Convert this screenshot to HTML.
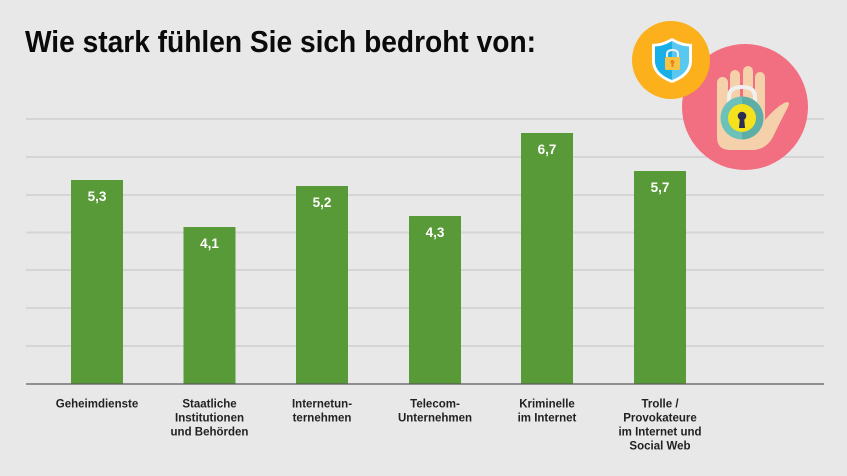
<!DOCTYPE html>
<html><head><meta charset="utf-8"><style>
html,body{margin:0;padding:0;background:#e8e8e8;}
svg{display:block;}
text{font-family:"Liberation Sans",Arial,sans-serif;}
</style></head><body>
<svg width="847" height="476" viewBox="0 0 847 476" xmlns="http://www.w3.org/2000/svg">
<rect width="847" height="476" fill="#e8e8e8"/>
<text x="25" y="52" font-size="31" font-weight="bold" fill="#0a0a0a" textLength="511" lengthAdjust="spacingAndGlyphs">Wie stark fühlen Sie sich bedroht von:</text>
<g stroke="#d5d5d5" stroke-width="2">
<line x1="26" y1="119" x2="824" y2="119"/>
<line x1="26" y1="157" x2="824" y2="157"/>
<line x1="26" y1="195" x2="824" y2="195"/>
<line x1="26" y1="232.5" x2="824" y2="232.5"/>
<line x1="26" y1="270" x2="824" y2="270"/>
<line x1="26" y1="308" x2="824" y2="308"/>
<line x1="26" y1="346" x2="824" y2="346"/>
</g>
<g fill="#589a37">
<rect x="71" y="180" width="52" height="204"/>
<rect x="183.5" y="227" width="52" height="157"/>
<rect x="296" y="186" width="52" height="198"/>
<rect x="409" y="216" width="52" height="168"/>
<rect x="521" y="133" width="52" height="251"/>
<rect x="634" y="171" width="52" height="213"/>
</g>
<line x1="26" y1="384" x2="824" y2="384" stroke="#5a5a5a" stroke-width="1.3"/>
<g fill="#fff" font-size="13.5" font-weight="bold" text-anchor="middle">
<text x="97" y="201">5,3</text>
<text x="209.5" y="248">4,1</text>
<text x="322" y="207">5,2</text>
<text x="435" y="237">4,3</text>
<text x="547" y="154">6,7</text>
<text x="660" y="192">5,7</text>
</g>
<g fill="#222" font-size="11.5" font-weight="bold" text-anchor="middle">
<text x="97" y="407.5">Geheimdienste</text>
<text x="209.5" y="407.5">Staatliche</text>
<text x="209.5" y="421.5">Institutionen</text>
<text x="209.5" y="435.5">und Behörden</text>
<text x="322" y="407.5">Internetun-</text>
<text x="322" y="421.5">ternehmen</text>
<text x="435" y="407.5">Telecom-</text>
<text x="435" y="421.5">Unternehmen</text>
<text x="547" y="407.5">Kriminelle</text>
<text x="547" y="421.5">im Internet</text>
<text x="660" y="407.5">Trolle /</text>
<text x="660" y="421.5">Provokateure</text>
<text x="660" y="435.5">im Internet und</text>
<text x="660" y="449.5">Social Web</text>
</g>
<!-- pink circle with hand -->
<circle cx="745" cy="107" r="63" fill="#f26e81"/>
<g fill="#f4d1aa">
<rect x="717" y="77" width="11" height="50" rx="5.5"/>
<rect x="730" y="70" width="10" height="50" rx="5"/>
<rect x="743" y="66" width="10" height="50" rx="5"/>
<rect x="755" y="72" width="10" height="50" rx="5"/>
<path d="M717 100 L765 100 L765 120 Q775 108 784 103 Q791 100 788 107 Q780 122 773 137 Q766 150 752 150 L730 150 Q717 150 717 137 Z"/>
</g>
<path d="M729 105 L729 97 Q729 87 742 87 Q755 87 755 97 L755 105" fill="none" stroke="#f0f0f0" stroke-width="4"/>
<circle cx="742" cy="118" r="21.5" fill="#6cc2b9"/>
<path d="M742 96.5 A21.5 21.5 0 0 1 742 139.5 Z" fill="#5caea6"/>
<circle cx="742" cy="118" r="14" fill="#f6e21c"/>
<circle cx="742" cy="116" r="4.3" fill="#2b2d55"/>
<path d="M740 117 L744 117 L745 128 L739 128 Z" fill="#2b2d55"/>
<!-- orange circle with shield -->
<circle cx="671" cy="60" r="39" fill="#fcb01b"/>
<path d="M672 38 Q662 44 652 44 L652 62 Q653 76 672 83 Q691 76 692 62 L692 44 Q682 44 672 38 Z" fill="#fff"/>
<path d="M672 41 Q663 46.5 655 46.5 L655 62 Q656 74 672 80 Z" fill="#18b0e7"/>
<path d="M672 41 Q681 46.5 689 46.5 L689 62 Q688 74 672 80 Z" fill="#58c8f0"/>
<path d="M667 58 L667 54 Q667 50 672.5 50 Q678 50 678 54 L678 58" fill="none" stroke="#f0f0f0" stroke-width="2"/>
<rect x="665" y="57" width="15" height="13" rx="1.5" fill="#f8c244"/>
<circle cx="672.5" cy="62" r="2" fill="#e8851c"/>
<rect x="671.5" y="62" width="2" height="5" fill="#e8851c"/>
</svg>
</body></html>
